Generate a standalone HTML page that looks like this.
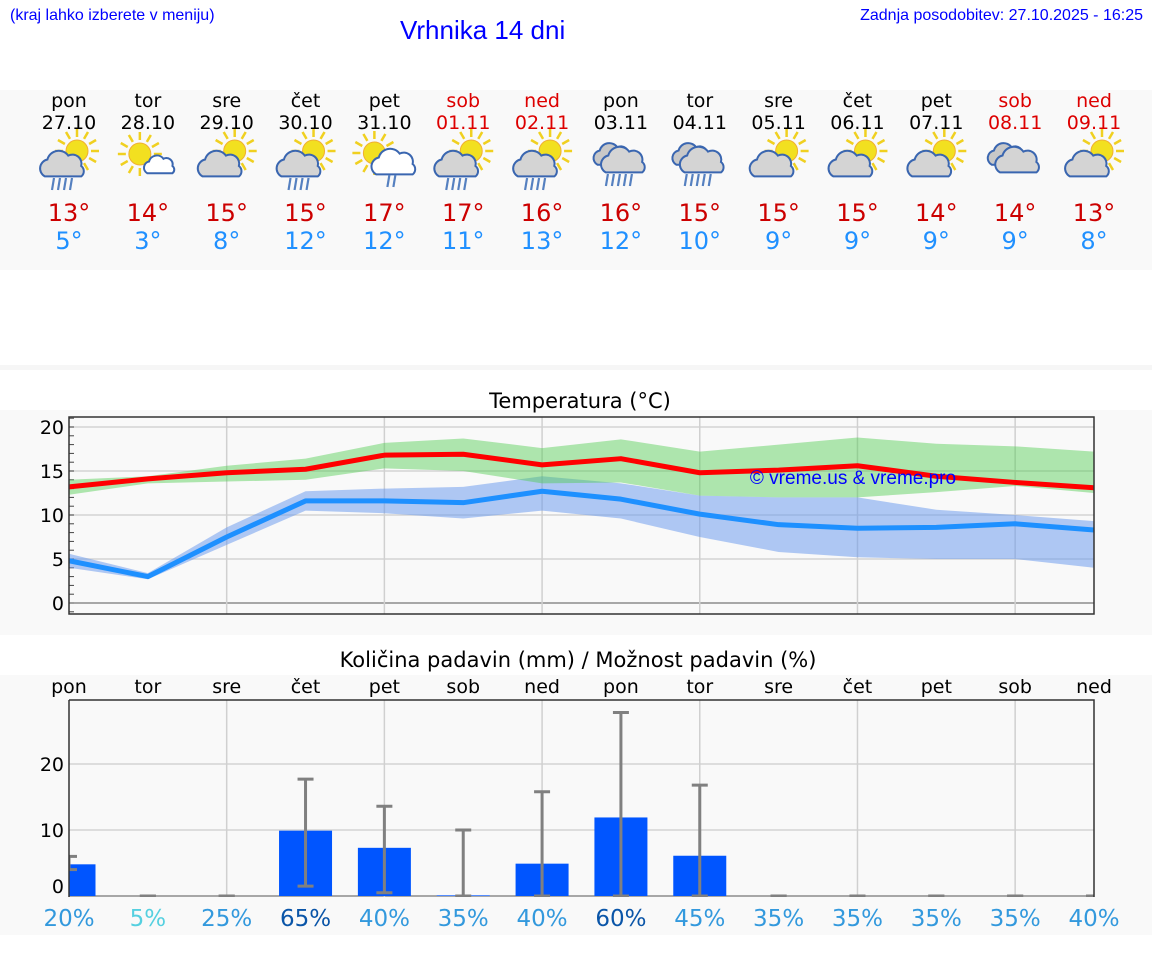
<!DOCTYPE html>
<html><head><meta charset="utf-8">
<style>
body{margin:0;background:#fff;font-family:"DejaVu Sans","Liberation Sans",sans-serif;}
#wrap{position:relative;width:1152px;height:975px;overflow:hidden;background:#fff}
.t{position:absolute;white-space:nowrap}
</style></head><body>
<div id="wrap">
<div class="t" style="left:10px;top:7px;font-size:16px;color:#00f;font-family:'Liberation Sans',sans-serif">(kraj lahko izberete v meniju)</div>
<div class="t" style="left:400px;top:15px;font-size:26px;color:#00f;font-family:'Liberation Sans',sans-serif">Vrhnika 14 dni</div>
<div class="t" style="right:9px;top:7px;font-size:16px;color:#00f;font-family:'Liberation Sans',sans-serif">Zadnja posodobitev: 27.10.2025 - 16:25</div>
<svg id="svg" width="1152" height="975" style="position:absolute;left:0;top:0"></svg>
</div>
<script>
const days=["pon","tor","sre","čet","pet","sob","ned","pon","tor","sre","čet","pet","sob","ned"];
const dates=["27.10","28.10","29.10","30.10","31.10","01.11","02.11","03.11","04.11","05.11","06.11","07.11","08.11","09.11"];
const icons=["scr","sw","sc","scr","swr","scr","scr","cr","cr","sc","sc","sc","cc","sc"];
const maxLabel=[13,14,15,15,17,17,16,16,15,15,15,14,14,13];
const minLabel=[5,3,8,12,12,11,13,12,10,9,9,9,9,8];
const tMax=[13.2,14.1,14.8,15.2,16.8,16.9,15.7,16.4,14.8,15.1,15.6,14.4,13.7,13.1];
const tMin=[4.8,3.0,7.5,11.6,11.6,11.4,12.7,11.8,10.1,8.9,8.5,8.6,9.0,8.3];
const maxLo=[12.3,13.6,13.8,14.0,15.3,15.0,13.6,13.7,12.2,12.0,12.0,12.6,13.3,12.5];
const maxHi=[14.0,14.4,15.6,16.4,18.2,18.7,17.6,18.6,17.2,18.0,18.8,18.1,17.8,17.2];
const minLo=[4.0,2.7,6.6,10.5,10.2,9.6,10.5,9.6,7.5,5.8,5.2,5.0,5.0,4.0];
const minHi=[5.6,3.4,8.6,12.7,13.0,13.2,14.4,13.6,12.2,12.0,12.0,10.6,10.0,9.3];
const tTicks=[0,5,10,15,20];
const precip=[4.8,0,0,9.9,7.3,0.1,4.9,11.9,6.1,0,0,0,0,0];
const errLo=[4.0,0,0,1.5,0.5,0,0,0,0,0,0,0,0,0];
const errHi=[6.0,0,0,17.7,13.6,10.0,15.8,27.8,16.8,0,0,0,0,0];
const chance=[20,5,25,65,40,35,40,60,45,35,35,35,35,40];
const pTicks=[0,10,20];

const NS="http://www.w3.org/2000/svg",svg=document.getElementById('svg');
function el(tag,attrs,parent,text){const e=document.createElementNS(NS,tag);for(const k in attrs)e.setAttribute(k,attrs[k]);if(text!==undefined)e.textContent=text;(parent||svg).appendChild(e);return e;}
const X0=69,X1=1094,DX=(X1-X0)/13;
const xd=i=>X0+i*DX;
const yT=v=>603-v*8.8;
const yP=v=>896-v*6.6;
const weekend=i=>days[i]==="sob"||days[i]==="ned";

let p;
p=el('rect',{x:0,y:90,width:1152,height:180,fill:'#f9f9f9'});
p=el('rect',{x:0,y:365,width:1152,height:5,fill:'#f6f6f6'});
p=el('rect',{x:0,y:410,width:1152,height:225,fill:'#f9f9f9'});
p=el('rect',{x:0,y:675,width:1152,height:260,fill:'#f9f9f9'});

function icon(g,type,cx,cy){
  const sun=(sx,sy,r)=>{for(let a=0;a<12;a++){const an=a*Math.PI/6;el('line',{x1:sx+Math.cos(an)*(r+3),y1:sy+Math.sin(an)*(r+3),x2:sx+Math.cos(an)*(r+11),y2:sy+Math.sin(an)*(r+11),stroke:'#f0d020','stroke-width':2.5},g);}el('circle',{cx:sx,cy:sy,r:r,fill:'#f2e020',stroke:'#f0b030','stroke-width':1},g);};
  const cloud=(x,y,s,fill)=>{el('path',{d:`M${x-14*s},${y+8*s} a7,7 0 0 1 2,-13 a9,9 0 0 1 16,-3 a7,7 0 0 1 10,8 a5,5 0 0 1 0,8 z`.replace(/a(\d+),(\d+) 0 0 1 (-?\d+),(-?\d+)/g,(m,a,b,c,d)=>`a${a*s},${b*s} 0 0 1 ${c*s},${d*s}`),fill:fill,stroke:'#3a66b0','stroke-width':2},g);};
  const rain=(x,y,n)=>{for(let k=0;k<n;k++)el('line',{x1:x+k*6,y1:y,x2:x+k*6-2,y2:y+12,stroke:'#5580c0','stroke-width':2.2},g);};
  if(type==="scr"){sun(cx+9,cy-9,11);cloud(cx-5,cy+6,1.3,'#d4d4d4');rain(cx-14,cy+18,4);}
  else if(type==="sw"){sun(cx-7,cy-6,11);cloud(cx+13,cy+6,0.9,'#fff');}
  else if(type==="sc"){sun(cx+9,cy-9,11);cloud(cx-5,cy+6,1.3,'#d4d4d4');}
  else if(type==="swr"){sun(cx-9,cy-7,11);cloud(cx+11,cy+4,1.3,'#fff');rain(cx+6,cy+15,2);}
  else if(type==="cr"){cloud(cx-7,cy-4,1.1,'#c8c8c8');cloud(cx+4,cy+2,1.3,'#d4d4d4');rain(cx-12,cy+14,5);}
  else if(type==="cc"){cloud(cx-7,cy-4,1.1,'#c8c8c8');cloud(cx+4,cy+2,1.3,'#d4d4d4');}
}
for(let i=0;i<14;i++){
  const x=xd(i),col=weekend(i)?'#dd0000':'#000';
  const g=el('g',{});
  let t=el('text',{x:x,y:107,'text-anchor':'middle','font-size':19,fill:col},g,days[i]);
  t=el('text',{x:x,y:129,'text-anchor':'middle','font-size':19,fill:col},g,dates[i]);
  const ig=el('g',{},g);
  icon(ig,icons[i],x-1,160);
  t=el('text',{x:x,y:221,'text-anchor':'middle','font-size':24,fill:'#cc0000'},g,maxLabel[i]+'°');
  t=el('text',{x:x,y:249,'text-anchor':'middle','font-size':24,fill:'#2090ff'},g,minLabel[i]+'°');
}
let tt=el('text',{x:580,y:408,'text-anchor':'middle','font-size':21,fill:'#000'},svg,'Temperatura (°C)');
const tg=el('g',{});
for(const v of tTicks){let l=el('line',{x1:X0,x2:X1,y1:yT(v),y2:yT(v),stroke:v===0?'#555':'#d4d4d4','stroke-width':v===0?1:1.5},tg);
 let t=el('text',{x:64,y:yT(v)+7,'text-anchor':'end','font-size':19,fill:'#000'},tg,String(v));}
for(let v=-1;v<=21;v++){el('line',{x1:X0,x2:X0+5,y1:yT(v),y2:yT(v),stroke:'#444','stroke-width':1},tg);}
for(let i=2;i<14;i+=2){let l=el('line',{x1:xd(i),x2:xd(i),y1:417,y2:614,stroke:'#d0d0d0','stroke-width':1.5},tg);}
function band(lo,hi,fill,name){let d='M'+lo.map((v,i)=>xd(i)+','+yT(v)).join('L')+'L'+hi.map((v,i)=>xd(i)+','+yT(v)).reverse().join('L')+'Z';const e=el('path',{d:d,fill:fill},tg);}
band(minLo,minHi,'rgba(100,149,237,0.5)','min-temp-range');
band(maxLo,maxHi,'rgba(80,205,80,0.45)','max-temp-range');
function line(vals,col,name){const e=el('polyline',{points:vals.map((v,i)=>xd(i)+','+yT(v)).join(' '),fill:'none',stroke:col,'stroke-width':5,'stroke-linejoin':'round'},tg);}
line(tMin,'#1e90ff','min-temp-line');
line(tMax,'#ff0000','max-temp-line');
let wm=el('text',{x:853,y:484,'text-anchor':'middle','font-size':19,fill:'#0000ff','font-family':'Liberation Sans, sans-serif'},tg,'© vreme.us & vreme.pro');
let fr=el('rect',{x:X0,y:417,width:X1-X0,height:197,fill:'none',stroke:'#333','stroke-width':1.5},tg);

tt=el('text',{x:578,y:667,'text-anchor':'middle','font-size':21,fill:'#000'},svg,'Količina padavin (mm) / Možnost padavin (%)');
const pg=el('g',{});
for(let i=0;i<14;i++){let t=el('text',{x:xd(i),y:693,'text-anchor':'middle','font-size':19,fill:'#000'},pg,days[i]);}
for(const v of pTicks){let l=el('line',{x1:X0,x2:X1,y1:yP(v),y2:yP(v),stroke:v===0?'#555':'#d4d4d4','stroke-width':v===0?1:1.5},pg);
 let t=el('text',{x:64,y:yP(v)+(v===0?-3:7),'text-anchor':'end','font-size':19,fill:'#000'},pg,String(v));}
for(let i=2;i<14;i+=2){let l=el('line',{x1:xd(i),x2:xd(i),y1:700,y2:897,stroke:'#d0d0d0','stroke-width':1.5},pg);}
const clip=el('clipPath',{id:'pc'},svg);el('rect',{x:X0,y:700,width:X1-X0,height:197},clip);
const bg=el('g',{'clip-path':'url(#pc)'},pg);
for(let i=0;i<14;i++){
  const x=xd(i);
  if(precip[i]>0){let b=el('rect',{x:x-26.5,y:yP(precip[i]),width:53,height:yP(0)-yP(precip[i]),fill:'#0055ff'},bg);}
  const eg=el('g',{},bg);
  el('line',{x1:x,x2:x,y1:yP(errLo[i]),y2:yP(errHi[i]),stroke:'#808080','stroke-width':3},eg);
  el('line',{x1:x-8,x2:x+8,y1:yP(errLo[i]),y2:yP(errLo[i]),stroke:'#808080','stroke-width':3},eg);
  el('line',{x1:x-8,x2:x+8,y1:yP(errHi[i]),y2:yP(errHi[i]),stroke:'#808080','stroke-width':3},eg);
  const c=chance[i]>=60?'#0a55a8':(chance[i]<10?'#55d0e0':'#3399dd');
  let t=el('text',{x:x,y:926,'text-anchor':'middle','font-size':23,fill:c},pg,chance[i]+'%');
}
fr=el('path',{d:`M${X0},700 L${X1},700 L${X1},897 M${X0},700 L${X0},897`,fill:'none',stroke:'#333','stroke-width':1.5},pg);
</script>
</body></html>
